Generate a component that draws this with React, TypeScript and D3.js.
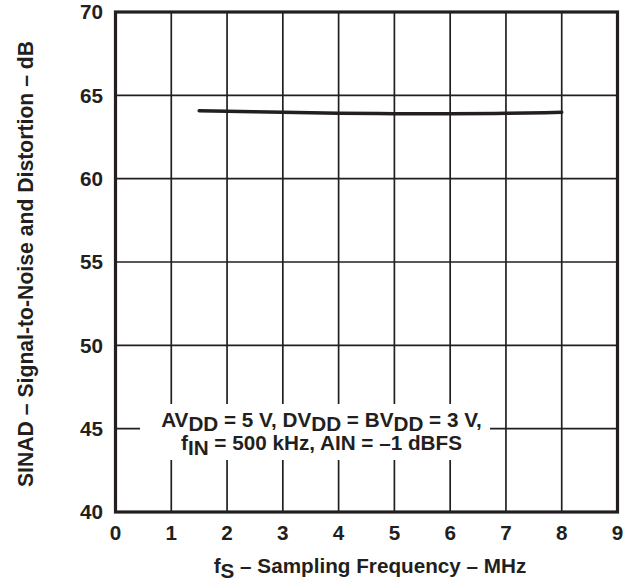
import React from "react";
import * as d3 from "d3";

const freqMHz = [1.5, 2, 3, 4, 5, 6, 7, 8];
const sinadDb = [64.08, 64.05, 63.98, 63.93, 63.9, 63.89, 63.92, 63.98];
const xTicks = [0, 1, 2, 3, 4, 5, 6, 7, 8, 9];
const yTicks = [40, 45, 50, 55, 60, 65, 70];

const W = 628;
const H = 583;
const M = { left: 115.5, right: 10.5, top: 12, bottom: 71 };

export default function App() {
  const x = d3.scaleLinear().domain([0, 9]).range([M.left, W - M.right]);
  const y = d3.scaleLinear().domain([40, 70]).range([H - M.bottom, M.top]);
  const line = d3
    .line<number>()
    .x((_, i) => x(freqMHz[i]))
    .y((d) => y(d))
    .curve(d3.curveMonotoneX);
  const font = "'Liberation Sans', Arial, sans-serif";
  const ink = "#231f20";
  const boxX0 = 140, boxX1 = 490, boxY0 = 404, boxY1 = 460;
  const fs = 20.7;
  return (
    <svg
      width={W}
      height={H}
      style={{ position: "absolute", left: 0, top: 0, background: "#fff" }}
      fontFamily={font}
      fontWeight="bold"
    >
      {xTicks.slice(1, -1).map((t) => (
        <line key={"vx" + t} x1={x(t)} x2={x(t)} y1={y(70)} y2={y(40)} stroke={ink} strokeWidth={1.7} />
      ))}
      {yTicks.slice(1, -1).map((t) => (
        <line key={"hy" + t} x1={x(0)} x2={x(9)} y1={y(t)} y2={y(t)} stroke={ink} strokeWidth={1.7} />
      ))}
      <rect x={boxX0} y={boxY0} width={boxX1 - boxX0} height={boxY1 - boxY0} fill="#fff" />
      <text x={321.5} y={426.7} textAnchor="middle" fontSize={fs} fill={ink}>
        AV<tspan dy={4.5}>DD</tspan><tspan dy={-4.5}> = 5 V, DV</tspan><tspan dy={4.5}>DD</tspan>
        <tspan dy={-4.5}> = BV</tspan><tspan dy={4.5}>DD</tspan><tspan dy={-4.5}> = 3 V,</tspan>
      </text>
      <text x={321.5} y={450} textAnchor="middle" fontSize={fs} fill={ink}>
        f<tspan dy={4.5}>IN</tspan><tspan dy={-4.5}> = 500 kHz, AIN = –1 dBFS</tspan>
      </text>
      <path d={line(sinadDb) || ""} fill="none" stroke={ink} strokeWidth={3.5} strokeLinecap="round" />
      <rect x={x(0)} y={y(70)} width={x(9) - x(0)} height={y(40) - y(70)} fill="none" stroke={ink} strokeWidth={3.2} />
      {yTicks.map((t) => (
        <text key={"yl" + t} x={103} y={y(t) + 7.3} textAnchor="end" fontSize={fs} fill={ink}>
          {t}
        </text>
      ))}
      {xTicks.map((t) => (
        <text key={"xl" + t} x={x(t)} y={540} textAnchor="middle" fontSize={fs} fill={ink}>
          {t}
        </text>
      ))}
      <text x={370} y={573} textAnchor="middle" fontSize={fs} fill={ink}>
        f<tspan dy={5}>S</tspan><tspan dy={-5}> – Sampling Frequency – MHz</tspan>
      </text>
      <text
        transform={`translate(33, ${(y(40) + y(70)) / 2 + 2}) rotate(-90)`}
        textAnchor="middle"
        fontSize={21.2}
        fill={ink}
      >
        SINAD – Signal-to-Noise and Distortion – dB
      </text>
    </svg>
  );
}
